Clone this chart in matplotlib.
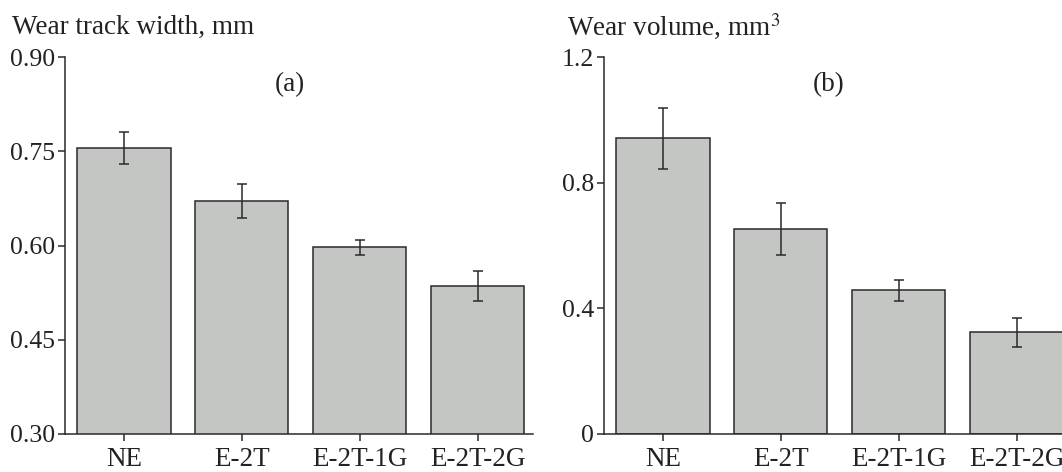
import matplotlib
matplotlib.use("Agg")
import matplotlib.pyplot as plt

plt.rcParams['font.family'] = ['Liberation Serif', 'DejaVu Serif']
plt.rcParams['mathtext.fontset'] = 'stix'

categories = ["NE", "E-2T", "E-2T-1G", "E-2T-2G"]
width_vals = [0.755, 0.671, 0.597, 0.535]
width_err = [0.025, 0.027, 0.012, 0.024]
volume_vals = [0.941, 0.653, 0.457, 0.324]
volume_err = [0.097, 0.082, 0.034, 0.046]

W, H = 1062, 472
fig = plt.figure(figsize=(W / 100, H / 100), dpi=100)

bar_color = "#c4c6c4"
edge = "#2a2a2a"
txt = "#222222"


def panel(left_px, label_px, vals, errs, ylim, yticks, yticklabels, ylabel, tag):
    ax = fig.add_axes([left_px / W, (H - 434) / H, 468 / W, (434 - 57) / H])
    x = range(len(categories))
    ax.bar(x, vals, width=0.79, color=bar_color, edgecolor=edge, linewidth=1.1,
           yerr=errs, capsize=3.3, error_kw=dict(ecolor=edge, elinewidth=1.1, capthick=1.1),
           zorder=2)
    ax.set_xlim(-0.5, 3.47)
    ax.set_ylim(*ylim)
    ax.set_xticks(list(x))
    ax.set_xticklabels(categories, fontsize=19.5, color=txt)
    ax.set_yticks(yticks)
    ax.set_yticklabels(yticklabels, fontsize=18.5, color=txt)
    for s in ["top", "right"]:
        ax.spines[s].set_visible(False)
    for s in ["left", "bottom"]:
        ax.spines[s].set_linewidth(1.1)
        ax.spines[s].set_color(edge)
    ax.tick_params(axis="both", direction="out", length=5, width=1.1, color=edge, pad=2)
    ax.tick_params(axis="x", pad=4)
    fig.text(label_px / W, (H - 27) / H, ylabel, fontsize=19.5, color=txt,
             ha="left", va="center")
    ax.text(0.48, 0.928, tag, transform=ax.transAxes, fontsize=19.5, color=txt,
            ha="center", va="center")
    return ax


panel(65, 12, width_vals, width_err, (0.30, 0.90), [0.30, 0.45, 0.60, 0.75, 0.90],
      ["0.30", "0.45", "0.60", "0.75", "0.90"], "Wear track width, mm", "(a)")
panel(604, 567, volume_vals, volume_err, (0, 1.2), [0, 0.4, 0.8, 1.2],
      ["0", "0.4", "0.8", "1.2"], "Wear volume, mm$^3$", "(b)")

fig.savefig("out.png", dpi=100)
